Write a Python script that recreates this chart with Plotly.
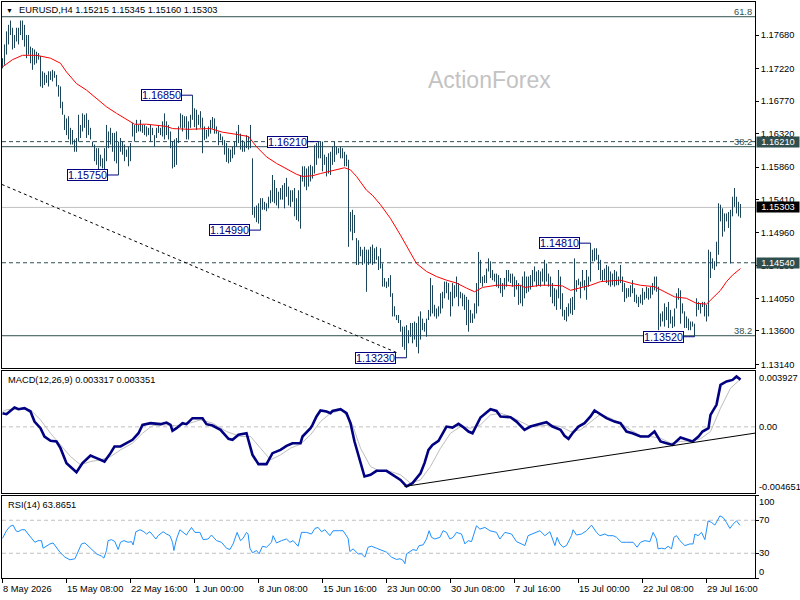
import plotly.graph_objects as go

# ---------------- data ----------------
highs = [
1.1736,1.1755,1.1773,1.1782,1.1788,1.1778,1.1768,1.1778,1.1778,1.1788,
1.1788,1.1782,1.1768,1.1768,1.1752,1.1750,1.1748,1.1745,1.1743,1.1739,
1.1718,1.1716,1.1713,1.1718,1.1718,1.1720,1.1718,1.1713,1.1699,1.1697,
1.1676,1.1658,1.1653,1.1656,1.1640,1.1637,1.1624,1.1626,1.1658,1.1644,
1.1660,1.1658,1.1660,1.1651,1.1640,1.1621,1.1617,1.1612,1.1612,1.1603,
1.1598,1.1612,1.1644,1.1635,1.1640,1.1633,1.1633,1.1635,1.1621,1.1626,
1.1621,1.1617,1.1610,1.1614,1.1619,1.1647,1.1644,1.1651,1.1644,1.1651,
1.1644,1.1644,1.1642,1.1640,1.1644,1.1640,1.1630,1.1640,1.1644,1.1640,
1.1649,1.1660,1.1649,1.1644,1.1635,1.1621,1.1624,1.1626,1.1642,1.1660,
1.1658,1.1656,1.1656,1.1649,1.1658,1.1685,1.1667,1.1665,1.1658,1.1663,
1.1654,1.1642,1.1637,1.1642,1.1651,1.1655,1.1653,1.1642,1.1635,1.1632,
1.1628,1.1623,1.1619,1.1612,1.1610,1.1614,1.1621,1.1635,1.1644,1.1632,
1.1623,1.1621,1.1630,1.1628,1.1644,1.1598,1.1531,1.1533,1.1536,1.1543,
1.1543,1.1538,1.1536,1.1545,1.1554,1.1575,1.1568,1.1557,1.1552,1.1557,
1.1561,1.1564,1.1571,1.1559,1.1554,1.1554,1.1557,1.1543,1.1554,1.1575,
1.1587,1.1587,1.1584,1.1587,1.1589,1.1587,1.1616,1.1619,1.1621,1.1621,
1.1621,1.1603,1.1600,1.1605,1.1607,1.1614,1.1621,1.1614,1.1612,1.1614,
1.1612,1.1607,1.1603,1.1596,1.1524,1.1527,1.1520,1.1488,1.1485,1.1476,
1.1472,1.1476,1.1472,1.1472,1.1476,1.1479,1.1474,1.1476,1.1463,1.1474,
1.1453,1.1433,1.1428,1.1433,1.1437,1.1412,1.1394,1.1382,1.1382,1.1375,
1.1366,1.1366,1.1368,1.1361,1.1371,1.1371,1.1373,1.1371,1.1380,1.1387,
1.1377,1.1371,1.1377,1.1389,1.1433,1.1423,1.1396,1.1391,1.1394,1.1412,
1.1414,1.1428,1.1428,1.1426,1.1414,1.1426,1.1423,1.1435,1.1426,1.1414,
1.1412,1.1410,1.1407,1.1403,1.1389,1.1384,1.1398,1.1426,1.1469,1.1458,
1.1435,1.1437,1.1446,1.1460,1.1456,1.1444,1.1439,1.1439,1.1437,1.1433,
1.1426,1.1433,1.1444,1.1444,1.1439,1.1439,1.1435,1.1430,1.1426,1.1423,
1.1435,1.1442,1.1435,1.1435,1.1437,1.1444,1.1449,1.1442,1.1444,1.1442,
1.1446,1.1458,1.1453,1.1439,1.1435,1.1426,1.1419,1.1417,1.1444,1.1435,
1.1412,1.1389,1.1393,1.1398,1.1405,1.1407,1.1460,1.1430,1.1432,1.1428,
1.1444,1.1430,1.1444,1.1435,1.1481,1.1472,1.1474,1.1474,1.1465,1.1458,
1.1444,1.1446,1.1451,1.1449,1.1442,1.1439,1.1444,1.1442,1.1435,1.1451,
1.1435,1.1426,1.1419,1.1419,1.1423,1.1430,1.1419,1.1410,1.1407,1.1410,
1.1419,1.1414,1.1421,1.1419,1.1421,1.1426,1.1435,1.1435,1.1421,1.1384,
1.1387,1.1398,1.1393,1.1400,1.1389,1.1380,1.1391,1.1412,1.1419,1.1416,
1.1398,1.1387,1.1380,1.1377,1.1373,1.1373,1.1370,1.1405,1.1400,1.1398,
1.1400,1.1400,1.1396,1.1472,1.1469,1.1460,1.1456,1.1483,1.1536,1.1534,
1.1529,1.1522,1.1522,1.1524,1.1527,1.1545,1.1557,1.1545,1.1538,1.1535]
lows = [
1.1722,1.1727,1.1741,1.1755,1.1768,1.1748,1.1750,1.1759,1.1755,1.1768,
1.1761,1.1752,1.1736,1.1741,1.1729,1.1720,1.1727,1.1729,1.1734,1.1697,
1.1695,1.1699,1.1702,1.1697,1.1706,1.1704,1.1709,1.1697,1.1683,1.1667,
1.1658,1.1637,1.1630,1.1624,1.1617,1.1617,1.1607,1.1607,1.1621,1.1626,
1.1635,1.1640,1.1626,1.1630,1.1624,1.1614,1.1594,1.1589,1.1580,1.1587,
1.1584,1.1582,1.1594,1.1612,1.1617,1.1607,1.1594,1.1591,1.1575,1.1607,
1.1603,1.1594,1.1600,1.1587,1.1594,1.1628,1.1621,1.1633,1.1635,1.1635,
1.1633,1.1630,1.1628,1.1630,1.1621,1.1630,1.1614,1.1626,1.1633,1.1630,
1.1628,1.1624,1.1630,1.1624,1.1612,1.1584,1.1586,1.1589,1.1619,1.1640,
1.1635,1.1640,1.1624,1.1624,1.1640,1.1651,1.1641,1.1637,1.1644,1.1640,
1.1605,1.1623,1.1625,1.1628,1.1632,1.1639,1.1632,1.1632,1.1616,1.1623,
1.1616,1.1603,1.1593,1.1591,1.1593,1.1598,1.1603,1.1614,1.1619,1.1610,
1.1607,1.1607,1.1612,1.1610,1.1612,1.1520,1.1516,1.1510,1.1508,1.1499,
1.1527,1.1527,1.1525,1.1529,1.1536,1.1538,1.1536,1.1533,1.1529,1.1541,
1.1541,1.1529,1.1545,1.1533,1.1531,1.1538,1.1518,1.1513,1.1511,1.1501,
1.1566,1.1559,1.1554,1.1559,1.1566,1.1570,1.1577,1.1589,1.1598,1.1598,
1.1580,1.1589,1.1573,1.1577,1.1575,1.1589,1.1593,1.1603,1.1605,1.1598,
1.1598,1.1587,1.1587,1.1476,1.1497,1.1485,1.1495,1.1451,1.1451,1.1463,
1.1451,1.1453,1.1414,1.1451,1.1453,1.1451,1.1453,1.1458,1.1444,1.1446,
1.1421,1.1421,1.1419,1.1421,1.1407,1.1380,1.1380,1.1375,1.1371,1.1359,
1.1338,1.1334,1.1323,1.1343,1.1352,1.1343,1.1348,1.1338,1.1329,1.1348,
1.1361,1.1359,1.1352,1.1375,1.1380,1.1384,1.1380,1.1377,1.1380,1.1384,
1.1391,1.1405,1.1412,1.1403,1.1380,1.1394,1.1405,1.1407,1.1394,1.1405,
1.1394,1.1389,1.1368,1.1359,1.1371,1.1371,1.1377,1.1384,1.1394,1.1426,
1.1421,1.1426,1.1426,1.1442,1.1433,1.1430,1.1428,1.1421,1.1419,1.1412,
1.1407,1.1417,1.1421,1.1428,1.1426,1.1421,1.1407,1.1417,1.1396,1.1398,
1.1394,1.1405,1.1412,1.1414,1.1417,1.1421,1.1428,1.1421,1.1423,1.1421,
1.1428,1.1423,1.1428,1.1421,1.1407,1.1398,1.1394,1.1389,1.1405,1.1390,
1.1380,1.1375,1.1373,1.1380,1.1384,1.1382,1.1389,1.1414,1.1423,1.1405,
1.1421,1.1416,1.1403,1.1421,1.1428,1.1456,1.1456,1.1458,1.1444,1.1430,
1.1428,1.1430,1.1426,1.1423,1.1421,1.1423,1.1421,1.1423,1.1423,1.1426,
1.1414,1.1400,1.1405,1.1407,1.1407,1.1412,1.1400,1.1398,1.1393,1.1398,
1.1396,1.1403,1.1405,1.1403,1.1405,1.1410,1.1416,1.1414,1.1361,1.1366,
1.1373,1.1366,1.1375,1.1364,1.1370,1.1364,1.1366,1.1391,1.1403,1.1370,
1.1384,1.1364,1.1364,1.1361,1.1361,1.1366,1.1352,1.1380,1.1389,1.1384,
1.1393,1.1380,1.1373,1.1380,1.1433,1.1446,1.1444,1.1449,1.1465,1.1511,
1.1490,1.1497,1.1511,1.1502,1.1453,1.1518,1.1531,1.1522,1.1518,1.1516]

# moving average (bar index, value)
ma_points = [(0,1.1724),(5,1.1734),(10,1.1740),(17,1.1740),(24,1.1736),(29,1.1729),(32,1.1717),
(37,1.1701),(42,1.1692),(47,1.1681),(52,1.1669),(57,1.1660),(62,1.1651),(66,1.1645),(72,1.1645),
(77,1.1643),(82,1.1642),(85,1.1639),(89,1.1638),(93,1.1638),(104,1.1639),(110,1.1634),(117,1.1631),
(123,1.1628),(127,1.1614),(132,1.1600),(137,1.1591),(142,1.1584),(147,1.1576),(150,1.1573),
(155,1.1574),(159,1.1577),(164,1.1580),(169,1.1584),(171,1.1585),(174,1.1582),(177,1.1573),
(182,1.1554),(185,1.1547),(189,1.1534),(194,1.1515),(199,1.1492),(203,1.1472),(207,1.1453),
(212,1.1442),(217,1.1435),(222,1.1430),(227,1.1426),(232,1.1419),(236,1.1414),(240,1.1420),
(247,1.1423),(252,1.1423),(255,1.1422),(259,1.1423),(261,1.1420),(264,1.1421),(269,1.1423),
(275,1.1423),(280,1.1422),(284,1.1416),(289,1.1419),(294,1.1423),(299,1.1428),(304,1.1429),
(309,1.1430),(314,1.1426),(319,1.1423),(326,1.1421),(332,1.1412),(336,1.1407),(342,1.1405),
(347,1.1398),(352,1.1397),(355,1.1405),(359,1.1416),(362,1.1428),(365,1.1437),(369,1.1446)]

macd_points = [(0,0.00096),(2,0.00089),(6,0.00136),(8,0.00124),(11,0.00131),(14,0.00108),(16,0.00037),
(19,-0.00009),(21,-0.00068),(24,-0.00098),(27,-0.00103),(29,-0.00150),(32,-0.00255),(35,-0.00291),
(37,-0.00319),(40,-0.00255),(44,-0.00202),(47,-0.00220),(51,-0.00244),(54,-0.00185),(56,-0.00138),
(59,-0.00138),(62,-0.00115),(65,-0.00091),(68,-0.00045),(70,0.00014),(74,0.00026),(79,0.00019),
(82,0.00030),(84,0.00014),(85,-0.00028),(87,-0.00009),(90,0.00026),(92,0.00019),(95,0.00061),
(100,0.00061),(102,0.00019),(105,0.00009),(109,-0.00021),(113,-0.00084),(115,-0.00091),(118,-0.00056),
(122,-0.00045),(123,-0.00091),(125,-0.00197),(128,-0.00262),(132,-0.00262),(135,-0.00185),
(139,-0.00162),(142,-0.00134),(145,-0.00115),(149,-0.00115),(150,-0.00068),(154,-0.00009),
(155,0.00014),(157,0.00073),(159,0.00115),(162,0.00108),(164,0.00096),(165,0.00112),(169,0.00124),
(172,0.00096),(174,0.00026),(176,-0.00103),(179,-0.00244),(181,-0.00349),(184,-0.00337),
(187,-0.00309),(192,-0.00309),(195,-0.00337),(199,-0.00373),(202,-0.00419),(205,-0.00396),
(209,-0.00326),(211,-0.00255),(213,-0.00162),(215,-0.00127),(218,-0.00098),(220,-0.00045),
(222,0.00002),(225,-0.00005),(228,0.00021),(230,0.00002),(233,-0.00033),(235,-0.00045),(237,0.00014),
(239,0.00066),(242,0.00101),(244,0.00124),(247,0.00112),(249,0.00073),(254,0.00068),(257,0.00037),
(261,-0.00021),(264,0.00002),(268,0.00019),(272,0.00033),(275,0.00002),(279,-0.00021),(281,-0.00063),
(283,-0.00084),(285,-0.00045),(288,0.00002),(291,0.00026),(294,0.00073),(296,0.00115),(299,0.00089),
(302,0.00061),(306,0.00037),(309,0.00026),(312,-0.00033),(315,-0.00045),(319,-0.00068),(323,-0.00068),
(326,-0.00033),(329,-0.00103),(332,-0.00115),(335,-0.00127),(339,-0.00075),(342,-0.00091),
(345,-0.00103),(348,-0.00068),(350,-0.00033),(353,-0.00009),(354,0.00084),(357,0.00155),
(359,0.00295),(362,0.00319),(365,0.00330),(367,0.00354),(369,0.00332)]

signal_points = [(0,0.00108),(2,0.00120),(10,0.00131),(14,0.00120),(19,0.00049),(24,-0.00045),
(29,-0.00127),(34,-0.00209),(39,-0.00267),(44,-0.00244),(49,-0.00232),(54,-0.00209),(59,-0.00162),
(65,-0.00115),(70,-0.00045),(75,0.00009),(82,0.00014),(87,0.00007),(92,0.00019),(99,0.00049),
(105,0.00026),(112,-0.00033),(119,-0.00068),(124,-0.00068),(129,-0.00150),(134,-0.00232),
(139,-0.00197),(144,-0.00150),(149,-0.00122),(154,-0.00056),(159,0.00037),(164,0.00096),
(170,0.00120),(175,0.00014),(179,-0.00150),(184,-0.00279),(189,-0.00314),(194,-0.00314),
(199,-0.00337),(204,-0.00396),(209,-0.00373),(214,-0.00279),(219,-0.00150),(224,-0.00045),
(229,0.00002),(234,-0.00009),(239,0.00014),(244,0.00084),(249,0.00096),(254,0.00073),(259,0.00037),
(264,0.00002),(269,0.00007),(274,0.00014),(279,0.00002),(284,-0.00033),(289,-0.00021),(294,0.00037),
(299,0.00089),(304,0.00061),(309,0.00026),(314,-0.00021),(319,-0.00061),(324,-0.00068),(329,-0.00080),
(334,-0.00115),(339,-0.00103),(344,-0.00098),(349,-0.00084),(354,-0.00033),(359,0.00131),
(364,0.00272),(369,0.00335)]

rsi_points = [(0,48.1),(2,57.3),(3.7,62.5),(5.3,64.1),(6.7,57.3),(7.8,56.1),(9.5,58.5),(11.2,58.5),
(12.8,53.3),(14.5,48.1),(16.2,43.3),(17.8,45.3),(19.5,45.3),(20.3,36.1),(22,38.5),(23.7,41.3),
(25.3,42.5),(27,36.1),(28.7,31.3),(31.2,25.3),(33.7,22.1),(36.2,23.3),(37.8,31.3),(39.5,41.3),
(41.2,42.5),(42.8,38.5),(44.5,34.5),(47,29.3),(49.5,26.5),(50.7,24.1),(52,33.3),(52.8,45.3),
(54.5,46.5),(56.2,44.1),(57.8,34.5),(59,43.3),(60.7,45.3),(62.8,43.3),(64.5,44.1),(65.3,40.1),
(66.7,56.1),(68.7,58.5),(70.7,56.1),(72,53.3),(73.7,56.1),(75.3,51.3),(76.7,47.3),(77.8,51.3),
(80.3,56.1),(82,53.3),(83.7,51.3),(85,43.3),(85.7,33.3),(87,47.3),(88.7,58.5),(90.3,55.3),
(92,52.1),(92.8,55.3),(94.5,61.3),(96.2,55.3),(98.7,55.3),(100.3,46.5),(102.8,47.3),(104.5,52.1),
(107,45.3),(109.5,43.3),(112,36.1),(113.7,34.5),(115.3,41.3),(117.3,55.3),(119,45.3),(120.3,48.1),
(122,55.3),(122.8,53.3),(123.7,36.1),(125,30.5),(127,33.3),(128.3,29.3),(130,38.5),(132,37.3),
(134.5,43.3),(135.3,51.3),(137,42.5),(139.5,45.3),(142,47.3),(143.7,43.3),(145.3,45.3),(147.8,38.5),
(149.5,55.3),(152,55.3),(154.5,53.3),(156.2,60.1),(157.8,61.3),(159.5,56.1),(161.2,58.5),
(163.7,51.3),(165.3,57.3),(167.8,57.3),(170.3,57.3),(172.8,48.1),(173.7,32.1),(175.3,35.3),
(177.8,29.3),(179.5,29.3),(181.2,25.3),(182.8,37.3),(184.5,38.5),(187,36.1),(189.5,33.3),
(192,31.3),(194.5,25.3),(197,22.5),(198.7,23.3),(200.3,21.3),(201.2,17.3),(202,29.3),(203.3,31.3),
(205.3,34.5),(207,33.3),(208.3,39.3),(210.3,40.1),(212,47.3),(213.3,57.3),(214.5,49.3),(216.2,47.3),
(218.7,49.3),(220.3,57.3),(222,55.3),(223.7,47.3),(225.3,49.3),(227,55.3),(229.5,53.3),(231.2,41.3),
(232.8,45.3),(234.5,44.1),(237,63.3),(238.7,59.3),(241.2,61.3),(243.7,57.3),(247,55.3),(248.7,47.3),
(251.2,55.3),(254.5,53.3),(257,44.1),(259.5,41.3),(261.2,39.3),(262.8,51.3),(264.5,53.3),(267,55.3),
(268.7,57.3),(271.2,51.3),(273.7,56.1),(276.2,39.3),(277.3,49.3),(278.7,41.3),(280.3,37.3),
(282,39.3),(284.5,51.3),(285.3,58.5),(287,52.1),(289.5,53.3),(292,57.3),(294.5,64.1),(297,55.3),
(298.7,51.3),(301.2,53.3),(302.8,51.3),(305.3,51.3),(307,49.3),(309.5,43.3),(312,43.3),(315.3,43.3),
(317.3,37.3),(319,43.3),(321.2,45.3),(323.7,44.1),(325.3,55.3),(327,47.3),(327.8,35.3),(329.5,36.1),
(331.2,35.3),(332.8,38.5),(334.5,35.3),(335.7,49.3),(337,51.3),(338.7,45.3),(341.2,39.3),(343.7,41.3),
(345.3,41.3),(346.2,53.3),(347.8,51.3),(349.5,55.3),(351.2,46.5),(352.8,69.3),(354.5,67.3),
(356.2,64.1),(358.7,75.3),(360.3,73.3),(362,67.3),(363.7,60.1),(365.3,65.3),(367,69.3),(368.7,63.9)]

tick_bars = [0, 32, 64, 96, 128, 160, 192, 224, 256, 288, 320, 352]
tick_labels = ["8 May 2026", "15 May 08:00", "22 May 16:00", "1 Jun 00:00", "8 Jun 08:00",
               "15 Jun 16:00", "23 Jun 00:00", "30 Jun 08:00", "7 Jul 16:00", "15 Jul 00:00",
               "22 Jul 08:00", "29 Jul 16:00"]
price_ticks = [1.17680, 1.17220, 1.16770, 1.16320, 1.15860, 1.15410, 1.14960, 1.14500,
               1.14050, 1.13600, 1.13140]
dashed_levels = [1.16210, 1.14540]
fib_levels = [1.17932, 1.16140, 1.13534]
fib_texts = ["61.8", "38.2", "38.2"]
current_price = 1.15303
swing_bars = [95, 58, 158, 129, 202, 294, 346]
swing_prices = [1.16850, 1.15750, 1.16210, 1.14990, 1.13230, 1.14810, 1.13520]
trend_main = [(-0.35, 1.1562), (197.2, 1.1330)]
trend_macd = [(201, -0.00419), (376.25, -0.00044)]
macd_min, macd_max = -0.004651, 0.003927
title_text = "EURUSD,H4 1.15215 1.15345 1.15160 1.15303"
macd_title = "MACD(12,26,9) 0.003317 0.003351"
rsi_title = "RSI(14) 63.8651"

assert len(highs) == len(lows)

# ---------------- layout constants ----------------
W, H = 800, 600
ML, MR, MT, MB = 2, 45, 2, 22
PW, PH = W - ML - MR, H - MT - MB
FONT = "Liberation Sans, Arial, sans-serif"
FS = 9.3
BAR = "#1B4459"
SLATE = "#2F4F4F"
NAVY = "#000080"

def pxx(px):
    return (px - ML) / PW

def pxy(py):
    return (H - MB - py) / PH

X_RANGE = [-0.25, 376.25]
MAIN_RANGE = [1.13089, 1.18135]

bx, by = [], []
for i, (h, l) in enumerate(zip(highs, lows)):
    bx += [i, i, None]
    by += [l, h, None]

fig = go.Figure()
fig.add_trace(go.Scatter(x=bx, y=by, mode="lines", line=dict(color=BAR, width=1),
                         xaxis="x", yaxis="y", hoverinfo="skip"))
fig.add_trace(go.Scatter(x=[p[0] for p in ma_points], y=[p[1] for p in ma_points], mode="lines",
                         line=dict(color="#FF0000", width=1), xaxis="x", yaxis="y"))
fig.add_trace(go.Scatter(x=[p[0] for p in signal_points], y=[p[1] for p in signal_points], mode="lines",
                         line=dict(color="#BDBDBD", width=1), xaxis="x2", yaxis="y2"))
fig.add_trace(go.Scatter(x=[p[0] for p in macd_points], y=[p[1] for p in macd_points], mode="lines",
                         line=dict(color=NAVY, width=2.6), xaxis="x2", yaxis="y2"))
fig.add_trace(go.Scatter(x=[p[0] for p in rsi_points], y=[p[1] for p in rsi_points], mode="lines",
                         line=dict(color="#1E90FF", width=1), xaxis="x3", yaxis="y3"))

shapes = []
for v in fib_levels:
    shapes.append(dict(type="line", xref="x domain", x0=0, x1=1, yref="y", y0=v, y1=v,
                       line=dict(color=SLATE, width=1), layer="below"))
for v in dashed_levels:
    shapes.append(dict(type="line", xref="x domain", x0=0, x1=1, yref="y", y0=v, y1=v,
                       line=dict(color=SLATE, width=1, dash="4px,3px"), layer="below"))
shapes.append(dict(type="line", xref="x domain", x0=0, x1=1, yref="y", y0=current_price, y1=current_price,
                   line=dict(color="#C0C0C0", width=1), layer="below"))
shapes.append(dict(type="line", xref="x", yref="y", x0=trend_main[0][0], y0=trend_main[0][1],
                   x1=trend_main[1][0], y1=trend_main[1][1], line=dict(color="black", width=1, dash="3px,3px")))
shapes.append(dict(type="line", xref="x2 domain", x0=0, x1=1, yref="y2", y0=0, y1=0,
                   line=dict(color="#C0C0C0", width=1, dash="4px,3px"), layer="below"))
shapes.append(dict(type="line", xref="x2", yref="y2", x0=trend_macd[0][0], y0=trend_macd[0][1],
                   x1=trend_macd[1][0], y1=trend_macd[1][1], line=dict(color="black", width=1)))
for v in (70, 30):
    shapes.append(dict(type="line", xref="x3 domain", x0=0, x1=1, yref="y3", y0=v, y1=v,
                       line=dict(color="#C0C0C0", width=1, dash="4px,3px"), layer="below"))

ann = []
def txt(x, y, s, size=FS, color="black", xanchor="left", **kw):
    d = dict(x=x, y=y, xref="paper", yref="paper", text=s, showarrow=False, xanchor=xanchor,
             yanchor="middle", font=dict(family=FONT, size=size, color=color), borderpad=0)
    d.update(kw)
    ann.append(d)

txt(pxx(9.5), pxy(10.5), "▼", size=7, xanchor="center")
txt(pxx(17.5), pxy(10.5), title_text)
txt(pxx(6.5), pxy(380), macd_title)
txt(pxx(6.5), pxy(505), rsi_title)
txt(pxx(489), pxy(80), "ActionForex", size=23, color="#C3C3C3", xanchor="center")
for v, s in zip(fib_levels, fib_texts):
    ann.append(dict(x=pxx(752.5), xref="paper", y=v, yref="y", text=s, showarrow=False,
                    xanchor="right", yanchor="bottom", yshift=-1, borderpad=0,
                    font=dict(family=FONT, size=FS, color=SLATE)))
# right price boxes
for v, bg in ((dashed_levels[0], SLATE), (current_price, "black"), (dashed_levels[1], SLATE)):
    ann.append(dict(x=pxx(756), xref="paper", y=v, yref="y", text=f"{v:.5f}", showarrow=False,
                    xanchor="left", yanchor="middle", bgcolor=bg, width=42, height=10, borderpad=0,
                    align="center", font=dict(family=FONT, size=FS, color="white")))
# MACD / RSI right labels
for v, s, sh in ((macd_max, f"{macd_max:.6f}", -7), (0, "0.00", 0), (macd_min, f"{macd_min:.6f}", 6)):
    ann.append(dict(x=pxx(757.5), xref="paper", y=v, yref="y2", text=s, showarrow=False,
                    xanchor="left", yanchor="middle", yshift=sh, borderpad=0,
                    font=dict(family=FONT, size=FS, color="black")))
for v, s, sh in ((100, "100", -6), (70, "70", 0), (30, "30", 0), (0, "0", 6.5)):
    ann.append(dict(x=pxx(758), xref="paper", y=v, yref="y3", text=s, showarrow=False,
                    xanchor="left", yanchor="middle", yshift=sh, borderpad=0,
                    font=dict(family=FONT, size=FS, color="black")))
# time labels
for b, s in zip(tick_bars, tick_labels):
    ann.append(dict(x=b, xref="x3", y=pxy(588.5), yref="paper", text=s, showarrow=False,
                    xanchor="left", yanchor="middle", borderpad=0, xshift=-0.5,
                    font=dict(family=FONT, size=FS, color="black")))
# swing labels
for b, p in zip(swing_bars, swing_prices):
    ann.append(dict(x=b, y=p, xref="x", yref="y", text=f"{p:.5f}", showarrow=True, arrowhead=0,
                    arrowwidth=1, arrowcolor=NAVY, ax=-31, ay=0, standoff=0, startstandoff=0,
                    bgcolor="white", bordercolor=NAVY, borderwidth=1, borderpad=0, width=39, height=10,
                    font=dict(family=FONT, size=10.8, color=NAVY)))

axis_common = dict(showgrid=False, zeroline=False, showline=True, mirror=True, linecolor="black",
                   linewidth=1)
fig.update_layout(
    width=W, height=H, margin=dict(l=ML, r=MR, t=MT, b=MB),
    paper_bgcolor="white", plot_bgcolor="white", showlegend=False, hovermode=False,
    font=dict(family=FONT, size=FS, color="black"),
    xaxis=dict(domain=[0, 1], anchor="y", range=X_RANGE, showticklabels=False, ticks="", **axis_common),
    xaxis2=dict(domain=[0, 1], anchor="y2", range=X_RANGE, matches="x", showticklabels=False, ticks="",
                **axis_common),
    xaxis3=dict(domain=[0, 1], anchor="y3", range=X_RANGE, matches="x", tickvals=tick_bars,
                showticklabels=False, ticks="outside", ticklen=4, tickcolor="black", **axis_common),
    yaxis=dict(domain=[pxy(368), 1], anchor="x", side="right", range=MAIN_RANGE, tickvals=price_ticks,
               ticktext=[f"{v:.5f}" for v in price_ticks], ticks="outside", ticklen=3, tickcolor="black",
               tickfont=dict(family=FONT, size=FS, color="black"), **axis_common),
    yaxis2=dict(domain=[pxy(493), pxy(371)], anchor="x2", side="right", range=[macd_min, macd_max],
                showticklabels=False, ticks="", **axis_common),
    yaxis3=dict(domain=[0, pxy(495.5)], anchor="x3", side="right", range=[0, 100], tickvals=[100, 70, 30, 0],
                showticklabels=False, ticks="outside", ticklen=3, tickcolor="black", **axis_common),
    shapes=shapes, annotations=ann,
)

fig.write_html("out.html", config={"displayModeBar": False, "staticPlot": True},
               post_script="document.body.style.margin='0';document.body.style.overflow='hidden';")
